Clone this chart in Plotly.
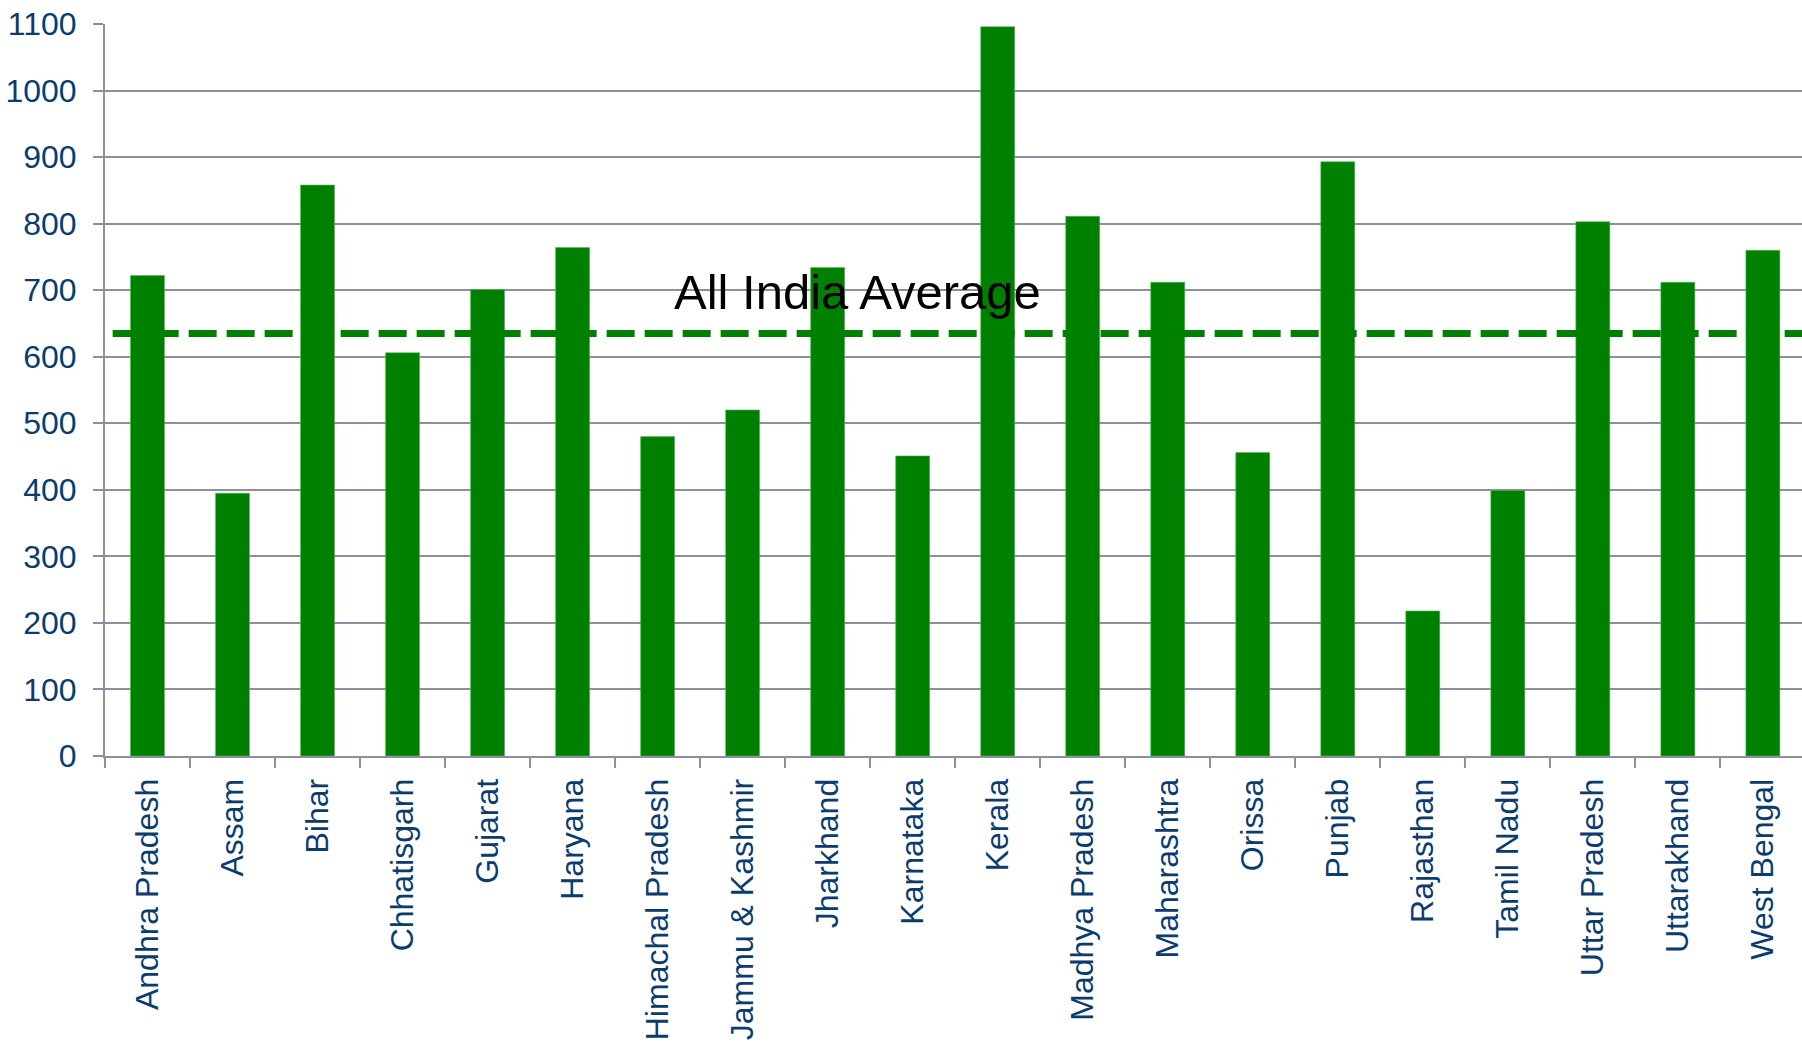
import plotly.graph_objects as go

states = ["Andhra Pradesh", "Assam", "Bihar", "Chhatisgarh", "Gujarat", "Haryana",
          "Himachal Pradesh", "Jammu & Kashmir", "Jharkhand", "Karnataka", "Kerala",
          "Madhya Pradesh", "Maharashtra", "Orissa", "Punjab", "Rajasthan",
          "Tamil Nadu", "Uttar Pradesh", "Uttarakhand", "West Bengal"]
values = [722, 395, 858, 606, 701, 764, 480, 520, 734, 451, 1096,
          811, 712, 456, 893, 218, 399, 803, 712, 760]
all_india_average = 635
y_ticks = [0, 100, 200, 300, 400, 500, 600, 700, 800, 900, 1000, 1100]

label_color = "#0B3C6E"
grid_color = "#8D8FA0"
font_family = "Liberation Sans, Arial, sans-serif"

fig = go.Figure()
fig.add_trace(go.Bar(
    x=states, y=values,
    marker=dict(color="#008000", line=dict(color="#5CB85C", width=0.6)),
    width=0.4,
    showlegend=False,
))

fig.add_shape(
    type="line", xref="x", yref="y",
    x0=-0.41, x1=19.6, y0=all_india_average, y1=all_india_average,
    line=dict(color="#008000", width=7, dash="28px,10px"),
    layer="above",
)

fig.add_annotation(
    x=8.35, y=697, xref="x", yref="y",
    text="All India Average", showarrow=False,
    font=dict(family=font_family, size=49, color="#000000"),
)

fig.update_layout(
    width=1802, height=1047,
    margin=dict(l=105, r=0, t=24, b=291, autoexpand=False),
    paper_bgcolor="white", plot_bgcolor="white",
    font=dict(family=font_family, color=label_color),
    bargap=0.6,
)
fig.update_xaxes(
    type="category",
    range=[-0.5, 19.46],
    tickangle=-90,
    automargin=False,
    ticklabelstandoff=8,
    tickfont=dict(size=32, color=label_color, family=font_family),
    showline=True, linecolor=grid_color, linewidth=2,
    ticks="outside", tickson="boundaries", ticklen=10, tickwidth=2, tickcolor=grid_color,
    showgrid=False,
)
fig.update_yaxes(
    range=[0, 1100],
    tickvals=y_ticks,
    automargin=False,
    ticklabelstandoff=10,
    tickfont=dict(size=32, color=label_color, family=font_family),
    showline=True, linecolor=grid_color, linewidth=2,
    ticks="outside", ticklen=10, tickwidth=2, tickcolor=grid_color,
    showgrid=True, gridcolor=grid_color, gridwidth=2,
    zeroline=False,
)

fig.write_html(
    "out.html",
    config={"displayModeBar": False},
    post_script="document.body.style.margin='0';document.body.style.overflow='hidden';",
)
